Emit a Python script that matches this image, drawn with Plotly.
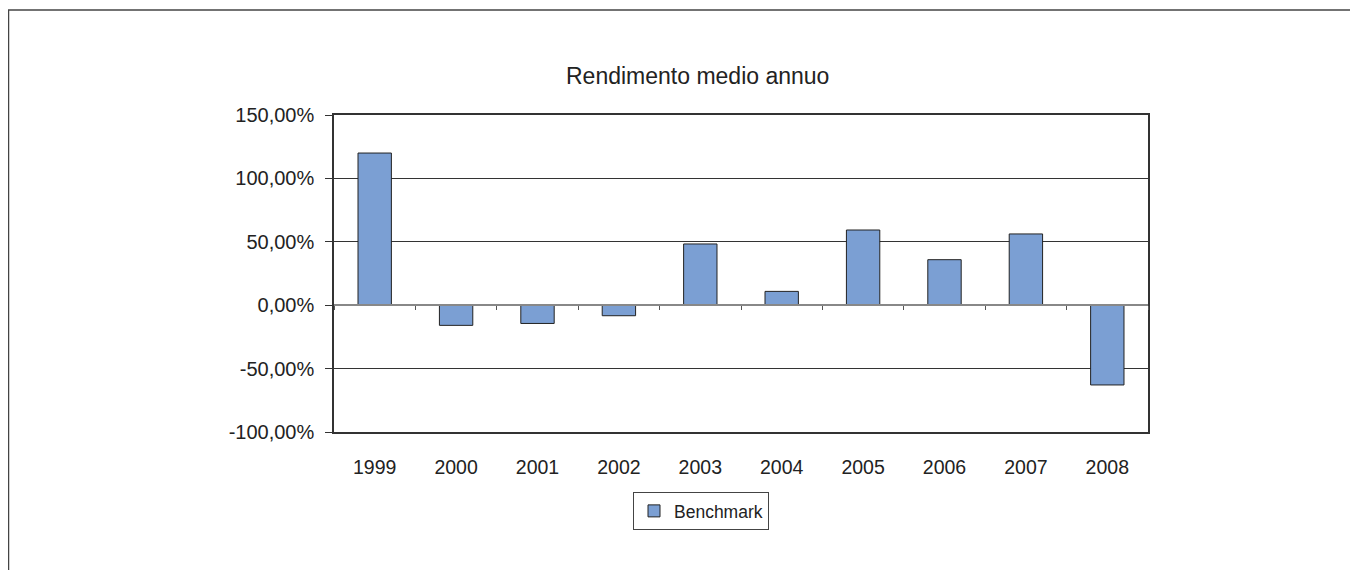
import plotly.graph_objects as go

years = ["1999", "2000", "2001", "2002", "2003", "2004", "2005", "2006", "2007", "2008"]
benchmark = [120.0, -15.9, -14.4, -8.3, 48.3, 10.9, 59.3, 35.9, 56.2, -62.9]
y_tickvals = [150, 100, 50, 0, -50, -100]
y_ticktext = ["150,00%", "100,00%", "50,00%", "0,00%", "-50,00%", "-100,00%"]
title_text = "Rendimento medio annuo"
series_name = "Benchmark"

# page body has an 8px margin; coordinates below are in figure pixels
OFF = 8
W, H = 1358, 570
L, R, T, B = 334 - OFF, 1358 - (1148 - OFF), 115 - OFF, 570 - (432 - OFF)
pw, ph = W - L - R, H - T - B

def px_x(p):
    return (p - OFF - L) / pw

def px_y(p):
    return (H - B - (p - OFF)) / ph

FONT = "Liberation Sans, Arial, sans-serif"
TXT = "#222222"

fig = go.Figure()
fig.add_trace(go.Bar(
    x=list(range(len(years))), y=benchmark, name=series_name,
    marker=dict(color="#7B9FD3", line=dict(color="#222222", width=1)),
    showlegend=True,
))
fig.add_trace(go.Scatter(x=[0], y=[0], xaxis="x2", mode="markers",
                         marker=dict(opacity=0), showlegend=False, hoverinfo="skip"))

ymin, ymax = -100, 150
fig.update_layout(
    width=W, height=H,
    margin=dict(l=L, r=R, t=T, b=B),
    paper_bgcolor="white", plot_bgcolor="white",
    font=dict(family=FONT, color=TXT, size=19),
    bargap=0.59,
    showlegend=True,
    legend=dict(
        orientation="h", x=px_x(701), xanchor="center", y=px_y(492), yanchor="top",
        bgcolor="white", bordercolor="#444444", borderwidth=1,
        font=dict(size=17.5, color=TXT), itemwidth=30,
    ),
    xaxis=dict(
        range=[-0.5, len(years) - 0.5],
        tickvals=list(range(len(years))), ticktext=years,
        showgrid=False, zeroline=False,
        showline=True, linecolor="#333333", linewidth=1.5, mirror=True,
        ticks="", ticklabelstandoff=17,
        tickfont=dict(size=19.5, color=TXT),
    ),
    xaxis2=dict(
        overlaying="x", matches="x", anchor="free",
        position=(0 - ymin) / (ymax - ymin),
        range=[-0.5, len(years) - 0.5],
        tickvals=[i - 0.5 for i in range(len(years) + 1)],
        showticklabels=False, ticks="outside", ticklen=4, tickcolor="#555555",
        showline=True, linecolor="#888888", linewidth=1.5,
        showgrid=False, zeroline=False,
    ),
    yaxis=dict(
        range=[ymin, ymax],
        tickvals=y_tickvals, ticktext=y_ticktext,
        showgrid=True, gridcolor="#333333", gridwidth=1,
        zeroline=False,
        showline=True, linecolor="#333333", linewidth=1.5, mirror=True,
        ticks="outside", ticklen=7, tickcolor="#333333",
        ticklabelstandoff=7,
        tickfont=dict(size=20, color=TXT),
    ),
    annotations=[dict(
        text=title_text, xref="paper", yref="paper",
        x=px_x(697), y=px_y(76), xanchor="center", yanchor="middle",
        showarrow=False, font=dict(size=23, color=TXT, family=FONT),
    )],
    shapes=[
        dict(type="line", xref="paper", yref="paper",
             x0=px_x(8), x1=px_x(W + 20), y0=px_y(10), y1=px_y(10),
             line=dict(color="#444444", width=1.5)),
        dict(type="line", xref="paper", yref="paper",
             x0=px_x(8.5), x1=px_x(8.5), y0=px_y(10), y1=px_y(H + 20),
             line=dict(color="#444444", width=1.5)),
    ],
)

fig.write_html("out.html")
